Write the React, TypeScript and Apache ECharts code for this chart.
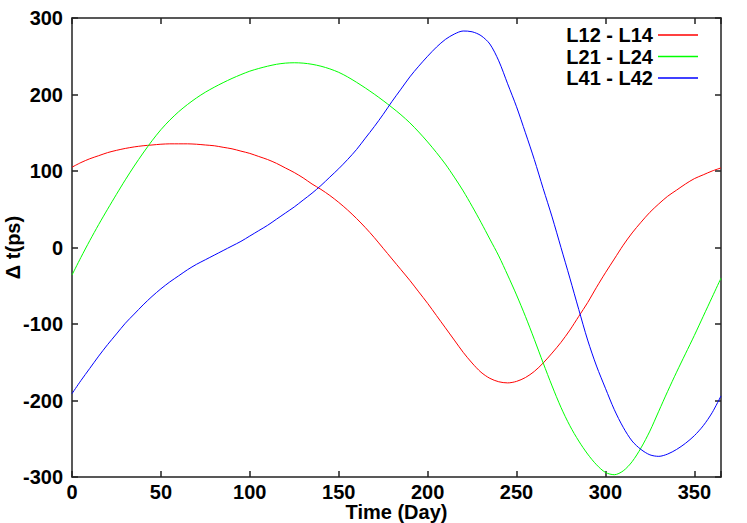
import React, { useEffect, useRef } from "react";
import * as echarts from "echarts";

const seriesNames = ["L12 - L14", "L21 - L24", "L41 - L42"];
const seriesColors = ["#ff0000", "#00ff00", "#0000ff"];

// Days sampled every 5 days (plus the final day 365)
const days = [0, 5, 10, 15, 20, 25, 30, 35, 40, 45, 50, 55, 60, 65, 70, 75, 80, 85, 90, 95, 100, 105, 110, 115, 120, 125, 130, 135, 140, 145, 150, 155, 160, 165, 170, 175, 180, 185, 190, 195, 200, 205, 210, 215, 220, 225, 230, 235, 240, 245, 250, 255, 260, 265, 270, 275, 280, 285, 290, 295, 300, 305, 310, 315, 320, 325, 330, 335, 340, 345, 350, 355, 360, 365];

const redVals = [105, 111, 116, 120, 124, 127, 129.5, 131.5, 133, 134, 135, 135.5, 135.5, 135.5, 135, 134, 133, 131, 129, 126, 123, 119, 115, 110, 104, 98, 91, 83, 76, 68, 59, 49, 38, 26, 13, -1, -15, -29, -43, -58, -73, -89, -105, -121, -137, -151, -163, -171, -175.5, -177, -175, -170, -162, -151, -138, -124, -108, -90, -72, -52, -33, -15, 3, 19, 33, 46, 57, 67, 75, 83, 90, 95, 100, 104];

const greenVals = [-36, -13, 9, 30, 50, 69.5, 88.5, 106.5, 123.5, 139.5, 154, 166.5, 177.5, 187, 195.5, 203, 209.5, 215.5, 221, 226, 230.5, 234, 237, 239.5, 241, 241.5, 241, 239.5, 237, 233.5, 229, 223, 216, 208.5, 200.5, 192, 183, 173.5, 163, 151, 138, 124, 109, 92, 74, 54, 33, 11, -11, -36, -62, -90, -120, -151, -181, -209, -233, -253, -270, -284, -294, -297, -292, -280, -262, -240, -214, -188, -163, -139, -115, -90, -65, -40];

const blueVals = [-191, -174, -158, -142, -127, -113, -99, -87, -75, -64, -54, -45, -37, -29, -22, -16, -10, -4, 2, 8, 15, 22, 29, 37, 45, 53, 62, 71, 81, 92, 103, 115, 128, 143, 158, 174, 191, 207, 223, 237, 250, 262, 272, 279, 283, 282, 277, 266, 244, 214, 184, 150, 115, 77, 40, 0, -40, -81, -121, -155, -184, -212, -235, -253, -264, -271, -273, -270, -264, -256, -246, -233, -216, -194];

const xTicks = { min: 0, max: 365, interval: 50 };
const yTicks = { min: -300, max: 300, interval: 100 };

const FONT = "'Liberation Sans', Arial, Helvetica, sans-serif";

function pairs(xs: number[], ys: number[]) {
  return xs.map((x, i) => [x, ys[i]]);
}

export default function App() {
  const ref = useRef<HTMLDivElement>(null);
  useEffect(() => {
    if (!ref.current) return;
    const chart = echarts.init(ref.current, null, { renderer: "svg" });
    const lineColor = "#222";
    const data = [pairs(days, redVals), pairs(days, greenVals), pairs(days, blueVals)];
    const baseX = {
      type: "value",
      min: xTicks.min,
      max: xTicks.max,
      interval: xTicks.interval,
      axisLine: { show: true, onZero: false, lineStyle: { color: lineColor, width: 1.5 } },
      axisTick: { show: true, inside: true, length: 6, lineStyle: { color: lineColor, width: 1.5 } },
      splitLine: { show: false },
    };
    const baseY = {
      type: "value",
      min: yTicks.min,
      max: yTicks.max,
      interval: yTicks.interval,
      axisLine: { show: true, onZero: false, lineStyle: { color: lineColor, width: 1.5 } },
      axisTick: { show: true, inside: true, length: 6, lineStyle: { color: lineColor, width: 1.5 } },
      splitLine: { show: false },
    };
    chart.setOption({
      animation: false,
      backgroundColor: "#ffffff",
      grid: { left: 72, right: 26, top: 18, bottom: 46, containLabel: false, outerBoundsMode: "none" },
      legend: {
        orient: "vertical",
        right: 44,
        top: 20,
        align: "right",
        itemWidth: 40,
        itemHeight: 1.5,
        itemGap: 1.5,
        icon: "rect",
        textStyle: { fontFamily: FONT, fontWeight: "bold", fontSize: 20, color: "#000", lineHeight: 20 },
        data: seriesNames.map((n, i) => ({ name: n, itemStyle: { color: seriesColors[i] } })),
      },
      xAxis: [
        {
          ...baseX,
          position: "bottom",
          name: "Time (Day)",
          nameLocation: "middle",
          nameGap: 26,
          nameMoveOverlap: false,
          nameTextStyle: { fontFamily: FONT, fontWeight: "bold", fontSize: 20, color: "#000", lineHeight: 18 },
          axisLabel: {
            fontFamily: FONT,
            fontWeight: "bold",
            fontSize: 20,
            color: "#000",
            margin: 5,
            lineHeight: 20,
            formatter: (v: number) => (v % 50 === 0 ? String(v) : ""),
          },
        },
        { ...baseX, position: "top", axisLabel: { show: false } },
      ],
      yAxis: [
        {
          ...baseY,
          position: "left",
          name: "Δ t(ps)",
          nameLocation: "middle",
          nameGap: 49,
          nameRotate: 90,
          nameMoveOverlap: false,
          nameTextStyle: { fontFamily: FONT, fontWeight: "bold", fontSize: 20, color: "#000" },
          axisLabel: { fontFamily: FONT, fontWeight: "bold", fontSize: 20, color: "#000", margin: 9 },
        },
        { ...baseY, position: "right", axisLabel: { show: false } },
      ],
      series: seriesNames.map((n, i) => ({
        name: n,
        type: "line",
        smooth: 0.3,
        showSymbol: false,
        symbol: "none",
        data: data[i],
        lineStyle: { color: seriesColors[i], width: 1 },
        itemStyle: { color: seriesColors[i] },
      })),
    });
    return () => chart.dispose();
  }, []);
  return <div ref={ref} style={{ position: "absolute", left: 0, top: 0, width: 747, height: 523 }} />;
}
